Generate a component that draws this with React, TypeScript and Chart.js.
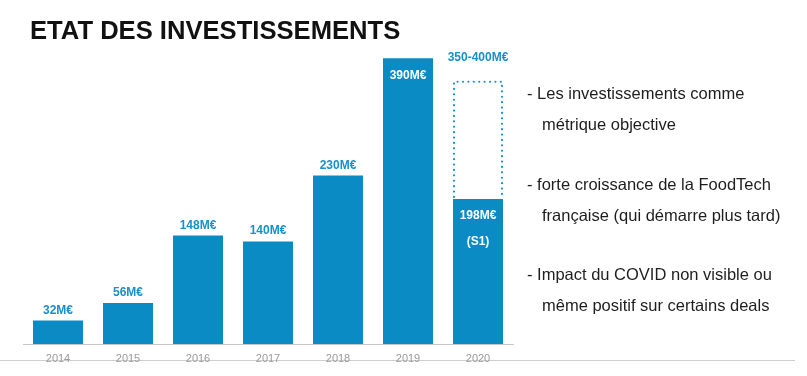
import React, { useEffect, useRef } from "react";
import { Chart, registerables } from "chart.js";

Chart.register(...registerables);

// ---- data ----
const years = ["2014", "2015", "2016", "2017", "2018", "2019", "2020"];
const investments = [32, 56, 148, 140, 230, 390, 198];
const valueLabels = ["32M€", "56M€", "148M€", "140M€", "230M€", "390M€", "198M€"];
const labelInside = [false, false, false, false, false, true, true];
const projectionIndex = 6;
const projectionTop = 358;
const projectionLabel = "350-400M€";
const halfYearNote = "(S1)";
const title = "ETAT DES INVESTISSEMENTS";
const bullets = [
  ["- Les investissements comme", "métrique objective"],
  ["- forte croissance de la FoodTech", "française (qui démarre plus tard)"],
  ["- Impact du COVID non visible ou", "même positif sur certains deals"],
];

const FONT = "'Liberation Sans', Arial, Helvetica, sans-serif";
const BAR_COLOR = "#0a8bc4";
const LABEL_BLUE = "#1890cb";

const labelPlugin = {
  id: "valueLabels",
  afterDatasetsDraw(chart: any) {
    const ctx = chart.ctx;
    const meta = chart.getDatasetMeta(0);
    const yScale = chart.scales.y;
    ctx.save();
    ctx.font = `bold 12px ${FONT}`;
    ctx.textAlign = "center";
    meta.data.forEach((el: any, i: number) => {
      if (labelInside[i]) {
        ctx.fillStyle = "#ffffff";
        ctx.textBaseline = "middle";
        ctx.fillText(valueLabels[i], el.x, el.y + 17);
        if (i === projectionIndex) {
          ctx.fillText(halfYearNote, el.x, el.y + 43);
        }
      } else {
        ctx.fillStyle = LABEL_BLUE;
        ctx.textBaseline = "alphabetic";
        ctx.fillText(valueLabels[i], el.x, el.y - 7);
      }
    });
    // projection dotted box
    const el = meta.data[projectionIndex];
    const yTop = yScale.getPixelForValue(projectionTop);
    const yBot = el.y;
    const left = el.x - el.width / 2 + 1;
    const right = el.x + el.width / 2 - 1;
    ctx.strokeStyle = LABEL_BLUE;
    ctx.lineWidth = 2.2;
    ctx.lineCap = "round";
    ctx.setLineDash([0, 5.4]);
    ctx.beginPath();
    ctx.moveTo(left, yBot - 2);
    ctx.lineTo(left, yTop);
    ctx.lineTo(right, yTop);
    ctx.lineTo(right, yBot - 2);
    ctx.stroke();
    ctx.setLineDash([]);
    ctx.fillStyle = LABEL_BLUE;
    ctx.textBaseline = "middle";
    ctx.fillText(projectionLabel, el.x, yTop - 24);
    ctx.restore();
  },
};

export default function App() {
  const canvasRef = useRef<HTMLCanvasElement | null>(null);

  useEffect(() => {
    document.body.style.margin = "0";
    const canvas = canvasRef.current;
    if (!canvas) return;
    const chart = new Chart(canvas, {
      type: "bar",
      data: {
        labels: years,
        datasets: [
          {
            data: investments,
            backgroundColor: BAR_COLOR,
            borderWidth: 0,
            barPercentage: 1,
            categoryPercentage: 50 / 70,
          },
        ],
      },
      options: {
        responsive: false,
        animation: false,
        devicePixelRatio: 1,
        layout: { padding: { left: 23, right: 294, top: 51, bottom: 0 } },
        plugins: {
          legend: { display: false },
          tooltip: { enabled: false },
          title: { display: false },
        },
        scales: {
          x: {
            grid: { display: false, drawTicks: false },
            border: { display: true, color: "#c9c9c9", width: 1 },
            ticks: {
              color: "#9a9a9a",
              font: { size: 11, family: FONT },
              padding: 8,
            },
            afterFit: (scale: any) => {
              scale.height = 32;
            },
          },
          y: {
            display: false,
            min: 0,
            max: 400,
          },
        },
      },
      plugins: [labelPlugin],
    });
    return () => chart.destroy();
  }, []);

  const paraTops = [77.5, 168.5, 258.5];

  return (
    <div
      style={{
        position: "fixed",
        left: 0,
        top: 0,
        width: 807,
        height: 376,
        background: "#ffffff",
        overflow: "hidden",
        fontFamily: FONT,
      }}
    >
      <div
        style={{
          position: "absolute",
          left: 0,
          top: 359.5,
          width: 795,
          height: 1,
          background: "#cfcfcf",
        }}
      />
      <canvas
        ref={canvasRef}
        width={807}
        height={376}
        style={{ position: "absolute", left: 0, top: 0, display: "block" }}
      />
      <div
        style={{
          position: "absolute",
          left: 30,
          top: 18.3,
          fontSize: 25.6,
          lineHeight: "25.6px",
          fontWeight: "bold",
          color: "#111111",
          whiteSpace: "nowrap",
        }}
      >
        {title}
      </div>
      {bullets.map((lines, i) => (
        <div
          key={i}
          style={{
            position: "absolute",
            left: 527,
            top: paraTops[i],
            fontSize: 16.5,
            lineHeight: "31px",
            color: "#1e1e1e",
            whiteSpace: "nowrap",
          }}
        >
          <div>{lines[0]}</div>
          <div style={{ paddingLeft: 15 }}>{lines[1]}</div>
        </div>
      ))}
    </div>
  );
}
